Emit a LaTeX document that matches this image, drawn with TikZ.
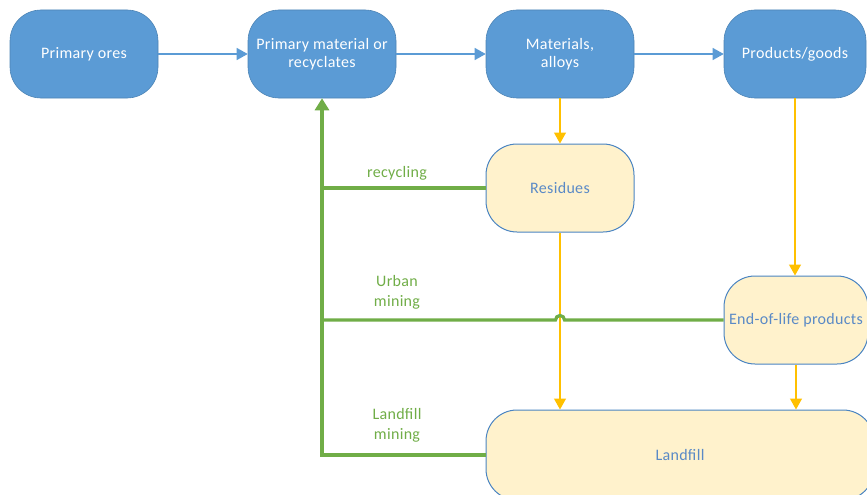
\documentclass[tikz,border=0pt]{standalone}
\usepackage{fontspec}
\setmainfont{Carlito}[LetterSpace=2]
\usetikzlibrary{arrows.meta}
\definecolor{bfill}{HTML}{5B9BD5}
\definecolor{bline}{HTML}{4A84C2}
\definecolor{yfill}{HTML}{FFF2CC}
\definecolor{ytext}{HTML}{5A8AC6}
\definecolor{yarr}{HTML}{FFC000}
\definecolor{garr}{HTML}{70AD47}
\tikzset{
  box/.style={rectangle, rounded corners=31pt, minimum width=148pt, minimum height=88pt,
    inner sep=0pt, align=center, font=\fontsize{16}{18}\selectfont},
  bluebox/.style={box, fill=bfill, draw=bfill!85!black, line width=0.6pt, text=white},
  yelbox/.style={box, fill=yfill, draw=bline, line width=1pt, text=ytext},
  barrow/.style={draw=bfill, line width=1.3pt, -{Triangle[length=11pt,width=12pt]}},
  yarrow/.style={draw=yarr, line width=1.3pt, -{Triangle[length=11pt,width=12pt]}},
  gline/.style={draw=garr, line width=3.2pt},
  glabel/.style={text=garr, align=center, font=\fontsize{16}{20}\selectfont}
}
\begin{document}
\begin{tikzpicture}[x=1pt,y=-1pt]
\useasboundingbox (0,0) rectangle (867,495);
\node[bluebox] (ores) at (84,54) {Primary ores};
\node[bluebox] (prim) at (322,54) {Primary material or\\recyclates};
\node[bluebox] (mat) at (560,54) {Materials,\\alloys};
\node[bluebox, minimum width=142pt] (prod) at (795,54) {Products/goods};
\node[yelbox] (res) at (560,188) {Residues};
\node[yelbox, minimum width=144pt] (eol) at (796,320) {End-of-life products};
\node[yelbox, minimum width=388pt, minimum height=90pt] (land) at (680,455) {Landfill};

\draw[barrow] (ores) -- (prim);
\draw[barrow] (prim) -- (mat);
\draw[barrow] (mat) -- (prod);

\draw[yarrow] (mat) -- (res);
\draw[yarrow] (prod.south) -- (prod.south |- eol.north);
\draw[yarrow] (res.south) -- (res.south |- land.north);
\draw[yarrow] (eol.south) -- (eol.south |- land.north);

\coordinate (cr) at (322,188);
\coordinate (cu) at (322,320);
\coordinate (cl) at (322,455);
\draw[gline] (res.west) -- (cr);
\draw[gline] (eol.west) -- (564.5,320) arc[start angle=0, end angle=180, radius=4.5pt] -- (cu);
\draw[gline] (land.west) -- (cl) -- (cr);
\draw[gline, -{Triangle[length=12pt,width=14pt]}] (cr) -- (prim.south);

\node[glabel] (l1) at (397,173) {recycling};
\node[glabel] (l2) at (397,292) {Urban\\mining};
\node[glabel] (l3) at (397,425) {Landfill\\mining};
\end{tikzpicture}
\end{document}
